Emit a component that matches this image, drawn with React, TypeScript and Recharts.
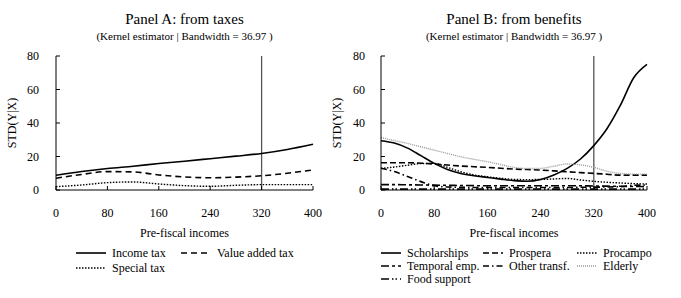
import { LineChart, Line, XAxis, YAxis, ReferenceLine } from 'recharts';

const FONT = '"Liberation Serif", "Times New Roman", serif';

// Panel A: from taxes
const taxIncomes = [0, 40, 80, 120, 160, 200, 240, 280, 320, 360, 400];
const incomeTax = [8.8, 11, 12.8, 14.2, 15.8, 17.2, 18.7, 20.2, 21.8, 24.2, 27.3];
const valueAddedTax = [7, 9.3, 11, 10.8, 9, 7.8, 7.3, 7.7, 8.5, 10, 12];
const specialTax = [2, 3, 4.4, 4.8, 3.6, 2.6, 2.2, 2.8, 3.2, 3.2, 3.2];

// Panel B: from benefits
const benefitIncomes = [0, 20, 40, 60, 80, 100, 120, 140, 160, 180, 200, 220, 240, 260, 280, 300, 320, 340, 360, 380, 400];
const scholarships = [29.4, 28, 25, 20.5, 15.9, 12.3, 9.9, 8.5, 7.5, 6.5, 5.6, 5.2, 6.3, 9, 12.9, 18.5, 26.5, 36.7, 50.6, 67, 75];
const prospera = [16.3, 16.3, 16.3, 16, 15.5, 14.9, 14.3, 13.9, 13.5, 13, 12.5, 12.2, 11.9, 11.4, 10.9, 10.4, 9.9, 9.4, 8.9, 8.9, 8.9];
const procampo = [12.9, 13.7, 14.8, 15.8, 15.9, 13.5, 10.9, 9, 7.9, 7, 6.3, 6.2, 6.3, 6.6, 6.9, 6, 5.2, 4.6, 4.2, 3.8, 3.6];
const temporalEmp = [3.2, 3.2, 3.1, 3, 2.9, 2.8, 2.7, 2.6, 2.5, 2.5, 2.5, 2.5, 2.5, 2.5, 2.5, 2.5, 2.4, 2.3, 2.2, 2.1, 2];
const otherTransf = [13, 11, 8, 5, 2.5, 1.8, 1.6, 1.5, 1.5, 1.5, 1.5, 1.5, 1.5, 1.5, 1.5, 1.6, 1.7, 1.8, 2, 2.8, 3];
const elderly = [31.3, 29.5, 27.8, 25.8, 23.8, 21.8, 19.8, 18.3, 16.9, 15.2, 13.5, 12.8, 12.9, 14.2, 15.5, 15, 13.5, 11.2, 9.9, 9.5, 9.5];
const foodSupport = [0.5, 0.5, 0.5, 0.5, 0.5, 0.5, 0.5, 0.5, 0.5, 0.5, 0.5, 0.5, 0.5, 0.5, 0.5, 0.5, 0.5, 0.5, 0.5, 0.5, 0.5];

const xTicks = [0, 80, 160, 240, 320, 400];
const yTicks = [0, 20, 40, 60, 80];
const cutoff = 320;

const taxData = taxIncomes.map((x, i) => ({
  x,
  incomeTax: incomeTax[i],
  valueAddedTax: valueAddedTax[i],
  specialTax: specialTax[i],
}));

const benefitData = benefitIncomes.map((x, i) => ({
  x,
  scholarships: scholarships[i],
  prospera: prospera[i],
  procampo: procampo[i],
  temporalEmp: temporalEmp[i],
  otherTransf: otherTransf[i],
  elderly: elderly[i],
  foodSupport: foodSupport[i],
}));

type Series = {
  key: string;
  name: string;
  color: string;
  width: number;
  dash?: string;
  lx: number; // legend sample left
  ly: number; // legend row center
};

const taxSeries: Series[] = [
  { key: 'incomeTax', name: 'Income tax', color: '#000', width: 1.6, lx: 76, ly: 253 },
  { key: 'valueAddedTax', name: 'Value added tax', color: '#000', width: 1.6, dash: '6 4', lx: 181, ly: 253 },
  { key: 'specialTax', name: 'Special tax', color: '#000', width: 1.4, dash: '1.5 1.5', lx: 76, ly: 268 },
];

const benefitSeries: Series[] = [
  { key: 'scholarships', name: 'Scholarships', color: '#000', width: 1.6, lx: 381, ly: 253 },
  { key: 'prospera', name: 'Prospera', color: '#000', width: 1.6, dash: '6 3', lx: 483, ly: 253 },
  { key: 'procampo', name: 'Procampo', color: '#000', width: 1.4, dash: '1.5 1.5', lx: 577, ly: 253 },
  { key: 'temporalEmp', name: 'Temporal emp.', color: '#000', width: 1.6, dash: '8 3 3 3', lx: 381, ly: 266 },
  { key: 'otherTransf', name: 'Other transf.', color: '#000', width: 1.6, dash: '6 3 1.5 3', lx: 483, ly: 266 },
  { key: 'elderly', name: 'Elderly', color: '#999', width: 1.4, dash: '1 1', lx: 577, ly: 266 },
  { key: 'foodSupport', name: 'Food support', color: '#000', width: 1.6, dash: '8 3 1.5 2 1.5 3', lx: 381, ly: 279 },
];

function YTitle(props: any) {
  const vb = props.viewBox || { y: 56, height: 134 };
  const cx = props.cx;
  const cy = vb.y + vb.height / 2;
  return (
    <text
      x={cx}
      y={cy}
      transform={`rotate(-90 ${cx} ${cy})`}
      textAnchor="middle"
      dominantBaseline="central"
      fontSize={12}
      fontFamily={FONT}
      fill="#000"
    >
      STD(Y|X)
    </text>
  );
}

type PanelProps = {
  left: number;
  width: number;
  yAxisWidth: number;
  marginRight: number;
  yTitleX: number;
  tickMargin: number;
  data: any[];
  series: Series[];
};

function Panel({ left, width, yAxisWidth, marginRight, yTitleX, tickMargin, data, series }: PanelProps) {
  const tick = { fontSize: 12, fontFamily: FONT, fill: '#000' };
  return (
    <div style={{ position: 'absolute', left, top: 0 }}>
      <LineChart width={width} height={298} data={data} margin={{ top: 56, right: marginRight, bottom: 0, left: 0 }}>
        <XAxis
          dataKey="x"
          type="number"
          domain={[0, 400]}
          ticks={xTicks}
          height={108}
          tick={tick}
          tickSize={-4}
          tickMargin={22}
          stroke="#000"
          label={{ value: 'Pre-fiscal incomes', position: 'insideTop', offset: 38, fontSize: 12, fontFamily: FONT, fill: '#000' }}
        />
        <YAxis
          type="number"
          domain={[0, 80]}
          ticks={yTicks}
          width={yAxisWidth}
          tick={tick}
          tickSize={-4}
          tickMargin={tickMargin}
          stroke="#000"
          label={<YTitle cx={yTitleX} />}
        />
        <ReferenceLine x={cutoff} stroke="#555" strokeWidth={1.3} />
        {series.map((s) => (
          <Line
            key={s.key}
            dataKey={s.key}
            name={s.name}
            type="monotone"
            stroke={s.color}
            strokeWidth={s.width}
            strokeDasharray={s.dash}
            dot={false}
            isAnimationActive={false}
          />
        ))}
      </LineChart>
    </div>
  );
}

function Overlay() {
  const legendItems = [...taxSeries, ...benefitSeries];
  return (
    <svg width={681} height={298} style={{ position: 'absolute', left: 0, top: 0, pointerEvents: 'none' }}>
      <g fontFamily={FONT} fill="#000" textAnchor="middle">
        <text x={184.5} y={24} fontSize={15}>Panel A: from taxes</text>
        <text x={184.5} y={40} fontSize={11}>(Kernel estimator | Bandwidth = 36.97 )</text>
        <text x={514} y={24} fontSize={15}>Panel B: from benefits</text>
        <text x={514} y={40} fontSize={11}>(Kernel estimator | Bandwidth = 36.97 )</text>
      </g>
      {legendItems.map((s) => {
        const len = s.lx < 300 ? 30 : 20;
        return (
          <g key={s.key}>
            <line
              x1={s.lx}
              x2={s.lx + len}
              y1={s.ly}
              y2={s.ly}
              stroke={s.color}
              strokeWidth={s.width}
              strokeDasharray={s.dash}
            />
            <text x={s.lx + len + 6} y={s.ly + 4} fontSize={12} fontFamily={FONT} fill="#000">
              {s.name}
            </text>
          </g>
        );
      })}
    </svg>
  );
}

export default function App() {
  return (
    <div style={{ position: 'absolute', left: 0, top: 0, width: 681, height: 298, background: '#fff' }}>
      <Panel
        left={0}
        width={340}
        yAxisWidth={56}
        marginRight={27}
        yTitleX={12}
        tickMargin={21}
        data={taxData}
        series={taxSeries}
      />
      <Panel
        left={320}
        width={361}
        yAxisWidth={61}
        marginRight={34}
        yTitleX={17}
        tickMargin={20}
        data={benefitData}
        series={benefitSeries}
      />
      <Overlay />
    </div>
  );
}
